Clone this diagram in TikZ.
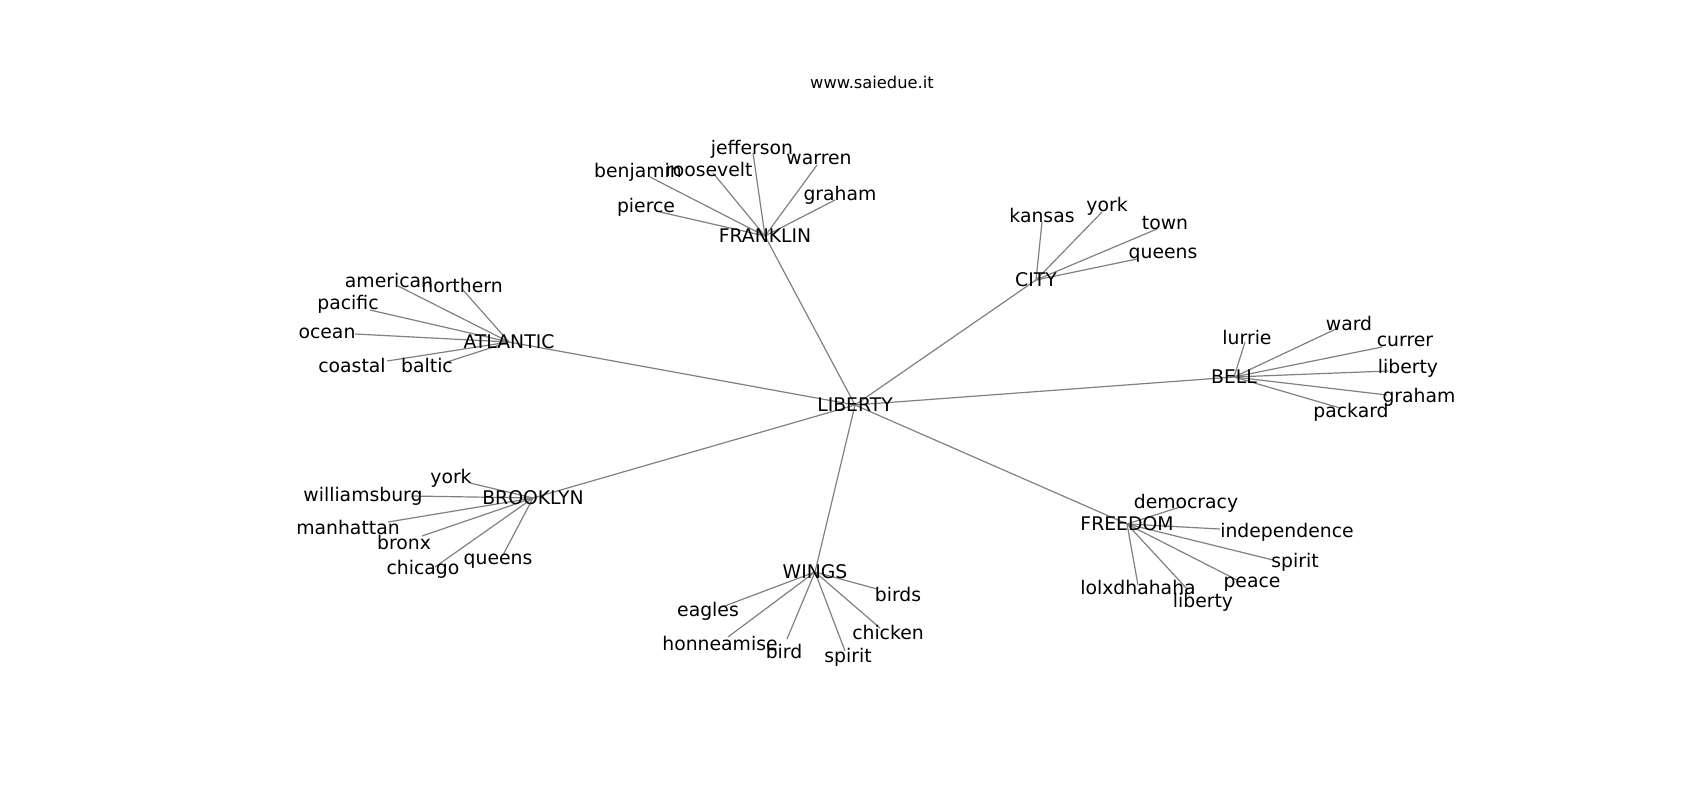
\documentclass[tikz,border=0pt]{standalone}
\usepackage{fontspec}
\setmainfont{DejaVu Sans}
\pgfdeclarelayer{bg}
\pgfsetlayers{bg,main}

\begin{document}
\begin{tikzpicture}[x=1pt, y=-1pt]
		\tikzset{
			every node/.style={
				inner sep=0pt,
				text=black,
				font=\fontsize{18.8}{22}\selectfont
			},
			hub/.style={},
			word/.style={},
			site/.style={
				font=\fontsize{16.3}{19}\selectfont
			},
			line/.style={
				draw=black!50,
				line width=1.2pt
			}
		}

		\useasboundingbox (0, 0) rectangle (1700, 800);

		\node[site] (site) at (872, 82) {www.saiedue.it};

		% hubs
		\node[hub] (liberty) at (855, 405) {LIBERTY};
		\node[hub] (atlantic) at (509, 342) {ATLANTIC};
		\node[hub] (franklin) at (765, 236) {FRANKLIN};
		\node[hub] (city) at (1036, 280) {CITY};
		\node[hub] (bell) at (1234, 377) {BELL};
		\node[hub] (brooklyn) at (533, 498) {BROOKLYN};
		\node[hub] (wings) at (815, 572) {WINGS};
		\node[hub] (freedom) at (1127, 524) {FREEDOM};

		% atlantic
		\node[word] (atl-american) at (389, 280) {american};
		\node[word] (atl-northern) at (462, 285) {northern};
		\node[word] (atl-pacific) at (348, 304) {pacific};
		\node[word] (atl-ocean) at (327, 333) {ocean};
		\node[word] (atl-coastal) at (352, 365) {coastal};
		\node[word] (atl-baltic) at (427, 365) {baltic};
		\coordinate (atl-american-end) at (398, 286);
		\coordinate (atl-northern-end) at (463, 290);
		\coordinate (atl-pacific-end) at (370, 310);
		\coordinate (atl-ocean-end) at (355, 334);
		\coordinate (atl-coastal-end) at (387, 361);
		\coordinate (atl-baltic-end) at (447, 362);

		% franklin
		\node[word] (fra-jefferson) at (752, 149) {jefferson};
		\node[word] (fra-benjamin) at (638, 172) {benjamin};
		\node[word] (fra-roosevelt) at (709, 169) {roosevelt};
		\node[word] (fra-warren) at (819, 159) {warren};
		\node[word] (fra-graham) at (840, 195) {graham};
		\node[word] (fra-pierce) at (646, 207) {pierce};
		\coordinate (fra-jefferson-end) at (753, 153);
		\coordinate (fra-benjamin-end) at (650, 177);
		\coordinate (fra-roosevelt-end) at (713, 173);
		\coordinate (fra-warren-end) at (817, 165);
		\coordinate (fra-graham-end) at (835, 200);
		\coordinate (fra-pierce-end) at (660, 212);

		% city
		\node[word] (cit-kansas) at (1042, 215) {kansas};
		\node[word] (cit-york) at (1107, 206) {york};
		\node[word] (cit-town) at (1165, 223) {town};
		\node[word] (cit-queens) at (1163, 255) {queens};
		\coordinate (cit-kansas-end) at (1042, 222);
		\coordinate (cit-york-end) at (1102, 212);
		\coordinate (cit-town-end) at (1157, 229);
		\coordinate (cit-queens-end) at (1137, 259);

		% bell
		\node[word] (bel-lurrie) at (1247, 337) {lurrie};
		\node[word] (bel-ward) at (1349, 323) {ward};
		\node[word] (bel-currer) at (1405, 341) {currer};
		\node[word] (bel-liberty) at (1408, 368) {liberty};
		\node[word] (bel-graham) at (1419, 397) {graham};
		\node[word] (bel-packard) at (1351, 412) {packard};
		\coordinate (bel-lurrie-end) at (1245, 342);
		\coordinate (bel-ward-end) at (1338, 328);
		\coordinate (bel-currer-end) at (1382, 347);
		\coordinate (bel-liberty-end) at (1388, 371);
		\coordinate (bel-graham-end) at (1387, 395);
		\coordinate (bel-packard-end) at (1340, 408);

		% brooklyn
		\node[word] (bro-york) at (451, 478) {york};
		\node[word] (bro-williamsburg) at (363, 496) {williamsburg};
		\node[word] (bro-manhattan) at (348, 527) {manhattan};
		\node[word] (bro-bronx) at (404, 542) {bronx};
		\node[word] (bro-chicago) at (423, 569) {chicago};
		\node[word] (bro-queens) at (498, 561) {queens};
		\coordinate (bro-york-end) at (470, 483);
		\coordinate (bro-williamsburg-end) at (412, 496);
		\coordinate (bro-manhattan-end) at (388, 522);
		\coordinate (bro-bronx-end) at (422, 536);
		\coordinate (bro-chicago-end) at (435, 567);
		\coordinate (bro-queens-end) at (503, 555);

		% wings
		\node[word] (win-birds) at (898, 594) {birds};
		\node[word] (win-eagles) at (708, 611) {eagles};
		\node[word] (win-chicken) at (888, 632) {chicken};
		\node[word] (win-honneamise) at (720, 643) {honneamise};
		\node[word] (win-bird) at (784, 651) {bird};
		\node[word] (win-spirit) at (848, 657) {spirit};
		\coordinate (win-birds-end) at (877, 589);
		\coordinate (win-eagles-end) at (722, 607);
		\coordinate (win-chicken-end) at (880, 628);
		\coordinate (win-honneamise-end) at (728, 637);
		\coordinate (win-bird-end) at (787, 639);
		\coordinate (win-spirit-end) at (845, 651);

		% freedom
		\node[word] (fre-democracy) at (1186, 503) {democracy};
		\node[word] (fre-independence) at (1287, 532) {independence};
		\node[word] (fre-spirit) at (1295, 562) {spirit};
		\node[word] (fre-peace) at (1252, 584) {peace};
		\node[word] (fre-lolxdhahaha) at (1138, 587) {lolxdhahaha};
		\node[word] (fre-liberty) at (1203, 602) {liberty};
		\coordinate (fre-democracy-end) at (1180, 507);
		\coordinate (fre-independence-end) at (1220, 529);
		\coordinate (fre-spirit-end) at (1273, 560);
		\coordinate (fre-peace-end) at (1237, 580);
		\coordinate (fre-lolxdhahaha-end) at (1138, 585);
		\coordinate (fre-liberty-end) at (1188, 590);

		\begin{pgfonlayer}{bg}
		\draw[line] (liberty.center) -- (atlantic.center);
		\draw[line] (liberty.center) -- (franklin.center);
		\draw[line] (liberty.center) -- (city.center);
		\draw[line] (liberty.center) -- (bell.center);
		\draw[line] (liberty.center) -- (brooklyn.center);
		\draw[line] (liberty.center) -- (wings.center);
		\draw[line] (liberty.center) -- (freedom.center);

		\draw[line] (atlantic.center) -- (atl-american-end);
		\draw[line] (atlantic.center) -- (atl-northern-end);
		\draw[line] (atlantic.center) -- (atl-pacific-end);
		\draw[line] (atlantic.center) -- (atl-ocean-end);
		\draw[line] (atlantic.center) -- (atl-coastal-end);
		\draw[line] (atlantic.center) -- (atl-baltic-end);

		\draw[line] (franklin.center) -- (fra-jefferson-end);
		\draw[line] (franklin.center) -- (fra-benjamin-end);
		\draw[line] (franklin.center) -- (fra-roosevelt-end);
		\draw[line] (franklin.center) -- (fra-warren-end);
		\draw[line] (franklin.center) -- (fra-graham-end);
		\draw[line] (franklin.center) -- (fra-pierce-end);

		\draw[line] (city.center) -- (cit-kansas-end);
		\draw[line] (city.center) -- (cit-york-end);
		\draw[line] (city.center) -- (cit-town-end);
		\draw[line] (city.center) -- (cit-queens-end);

		\draw[line] (bell.center) -- (bel-lurrie-end);
		\draw[line] (bell.center) -- (bel-ward-end);
		\draw[line] (bell.center) -- (bel-currer-end);
		\draw[line] (bell.center) -- (bel-liberty-end);
		\draw[line] (bell.center) -- (bel-graham-end);
		\draw[line] (bell.center) -- (bel-packard-end);

		\draw[line] (brooklyn.center) -- (bro-york-end);
		\draw[line] (brooklyn.center) -- (bro-williamsburg-end);
		\draw[line] (brooklyn.center) -- (bro-manhattan-end);
		\draw[line] (brooklyn.center) -- (bro-bronx-end);
		\draw[line] (brooklyn.center) -- (bro-chicago-end);
		\draw[line] (brooklyn.center) -- (bro-queens-end);

		\draw[line] (wings.center) -- (win-birds-end);
		\draw[line] (wings.center) -- (win-eagles-end);
		\draw[line] (wings.center) -- (win-chicken-end);
		\draw[line] (wings.center) -- (win-honneamise-end);
		\draw[line] (wings.center) -- (win-bird-end);
		\draw[line] (wings.center) -- (win-spirit-end);

		\draw[line] (freedom.center) -- (fre-democracy-end);
		\draw[line] (freedom.center) -- (fre-independence-end);
		\draw[line] (freedom.center) -- (fre-spirit-end);
		\draw[line] (freedom.center) -- (fre-peace-end);
		\draw[line] (freedom.center) -- (fre-lolxdhahaha-end);
		\draw[line] (freedom.center) -- (fre-liberty-end);
		\end{pgfonlayer}

	\end{tikzpicture}
\end{document}
